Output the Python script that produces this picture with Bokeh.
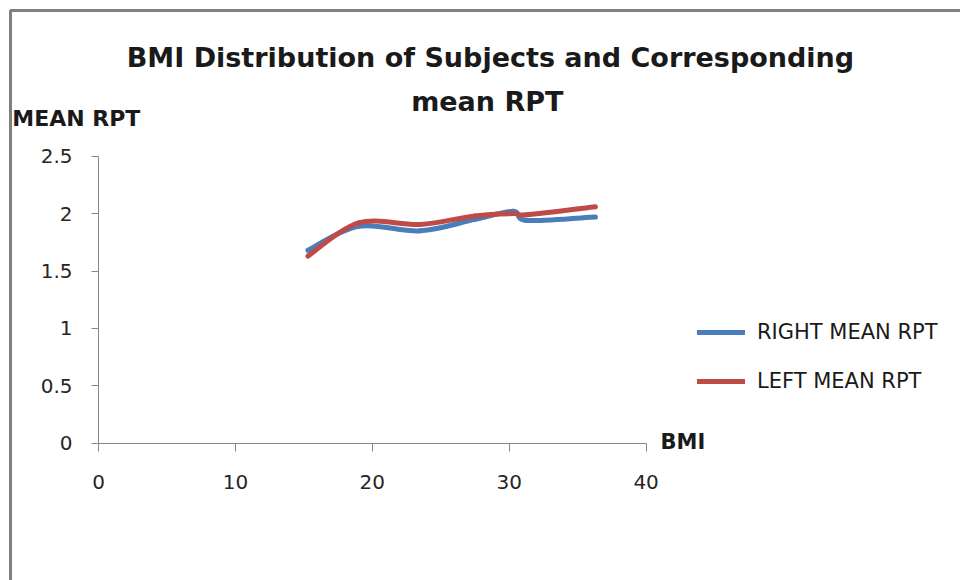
from bokeh.plotting import figure
from bokeh.models import (Label, Legend, LegendItem, FixedTicker, CustomJSTickFormatter,
                          BoxAnnotation, ColumnDataSource)
from bokeh.embed import file_html
from bokeh.resources import INLINE

# ---- data ----
bmi = [15.3, 19.0, 23.5, 27.5, 30.3, 31.3, 36.3]
right_mean_rpt = [1.68, 1.89, 1.85, 1.95, 2.02, 1.94, 1.97]
left_mean_rpt = [1.63, 1.92, 1.905, 1.98, 2.00, 1.99, 2.06]
x_ticks = [0, 10, 20, 30, 40]
y_ticks = [0, 0.5, 1, 1.5, 2, 2.5]

BLUE = "#4A7EBB"
RED = "#BE4B48"
AXIS = "#868686"
FONT = "DejaVu Sans"

W, H = 960, 580
# pixel geometry of the plot area inside the canvas
X0_PX, X_SCALE = 98.0, 547.6 / 40.0
Y0_PX, Y_SCALE = 442.7, 287.0 / 2.5


def smooth_segments(xs, ys):
    """Bezier segments (Catmull-Rom style, like a spreadsheet 'smoothed line')."""
    n = len(xs)
    d = dict(x0=[], y0=[], x1=[], y1=[], cx0=[], cy0=[], cx1=[], cy1=[])
    for i in range(n - 1):
        ip = max(i - 1, 0)
        inn = min(i + 2, n - 1)
        d["x0"].append(xs[i]); d["y0"].append(ys[i])
        d["x1"].append(xs[i + 1]); d["y1"].append(ys[i + 1])
        d["cx0"].append(xs[i] + (xs[i + 1] - xs[ip]) / 6.0)
        d["cy0"].append(ys[i] + (ys[i + 1] - ys[ip]) / 6.0)
        d["cx1"].append(xs[i + 1] - (xs[inn] - xs[i]) / 6.0)
        d["cy1"].append(ys[i + 1] - (ys[inn] - ys[i]) / 6.0)
    return ColumnDataSource(d)


x_start = -X0_PX / X_SCALE
x_end = x_start + W / X_SCALE
y_end = Y0_PX / Y_SCALE
y_start = y_end - H / Y_SCALE

p = figure(width=W, height=H, x_range=(x_start, x_end), y_range=(y_start, y_end),
           output_backend="svg", toolbar_location=None, title=None,
           min_border_left=0, min_border_right=0, min_border_top=0, min_border_bottom=0)
p.outline_line_color = None
p.xgrid.grid_line_color = None
p.ygrid.grid_line_color = None
p.background_fill_color = "white"
p.border_fill_color = "white"

# axes (placed inside the frame at 0, limited to the data extent)
for ax in (p.xaxis[0], p.yaxis[0]):
    ax.axis_line_color = AXIS
    ax.major_tick_line_color = AXIS
    ax.minor_tick_line_color = None
    ax.major_tick_in = 0
    ax.major_label_text_font = FONT
    ax.major_label_text_font_size = "20px"
    ax.major_label_text_color = "#262626"
    ax.fixed_location = 0
p.xaxis.bounds = (0, 40)
p.yaxis.bounds = (0, 2.5)
p.xaxis.ticker = FixedTicker(ticks=x_ticks)
p.yaxis.ticker = FixedTicker(ticks=y_ticks)
p.xaxis.major_tick_out = 8
p.yaxis.major_tick_out = 7
p.xaxis.major_label_standoff = 24
p.yaxis.major_label_standoff = 19
p.xaxis.formatter = CustomJSTickFormatter(code="return tick.toString();")
p.yaxis.formatter = CustomJSTickFormatter(code="return tick.toString();")

# series
r_right = p.bezier(x0="x0", y0="y0", x1="x1", y1="y1", cx0="cx0", cy0="cy0",
                   cx1="cx1", cy1="cy1", source=smooth_segments(bmi, right_mean_rpt),
                   line_color=BLUE, line_width=5, line_cap="round")
r_left = p.bezier(x0="x0", y0="y0", x1="x1", y1="y1", cx0="cx0", cy0="cy0",
                  cx1="cx1", cy1="cy1", source=smooth_segments(bmi, left_mean_rpt),
                  line_color=RED, line_width=5, line_cap="round")

legend = Legend(items=[LegendItem(label="RIGHT MEAN RPT", renderers=[r_right]),
                       LegendItem(label="LEFT MEAN RPT", renderers=[r_left])],
                location=(697, 187), padding=0, margin=0, spacing=25,
                glyph_width=48, glyph_height=20, label_height=20, label_standoff=12,
                label_text_font=FONT, label_text_font_size="21px",
                label_text_color="#1a1a1a",
                border_line_color=None, background_fill_alpha=0)
p.add_layout(legend, "center")

# titles / axis titles
p.add_layout(Label(x=28.63, y=3.36, text="BMI Distribution of Subjects and Corresponding",
                   text_align="center", text_baseline="middle", text_font=FONT,
                   text_font_size="27px", text_font_style="bold", text_color="#1a1a1a"))
p.add_layout(Label(x=28.4, y=2.98, text="mean RPT",
                   text_align="center", text_baseline="middle", text_font=FONT,
                   text_font_size="27px", text_font_style="bold", text_color="#1a1a1a"))
p.add_layout(Label(x=-6.3, y=2.83, text="MEAN RPT",
                   text_align="left", text_baseline="middle", text_font=FONT,
                   text_font_size="22px", text_font_style="bold", text_color="#1a1a1a"))
p.add_layout(Label(x=41.05, y=0.01, text="BMI",
                   text_align="left", text_baseline="middle", text_font=FONT,
                   text_font_size="21px", text_font_style="bold", text_color="#1a1a1a"))

# chart border (top and left edges visible)
p.add_layout(BoxAnnotation(left=-6.43, top=3.769, right=200, bottom=-50,
                           fill_color=None, fill_alpha=0,
                           line_color="#808080", line_alpha=1.0, line_width=3))

open("out.html", "w").write(file_html(p, INLINE))
